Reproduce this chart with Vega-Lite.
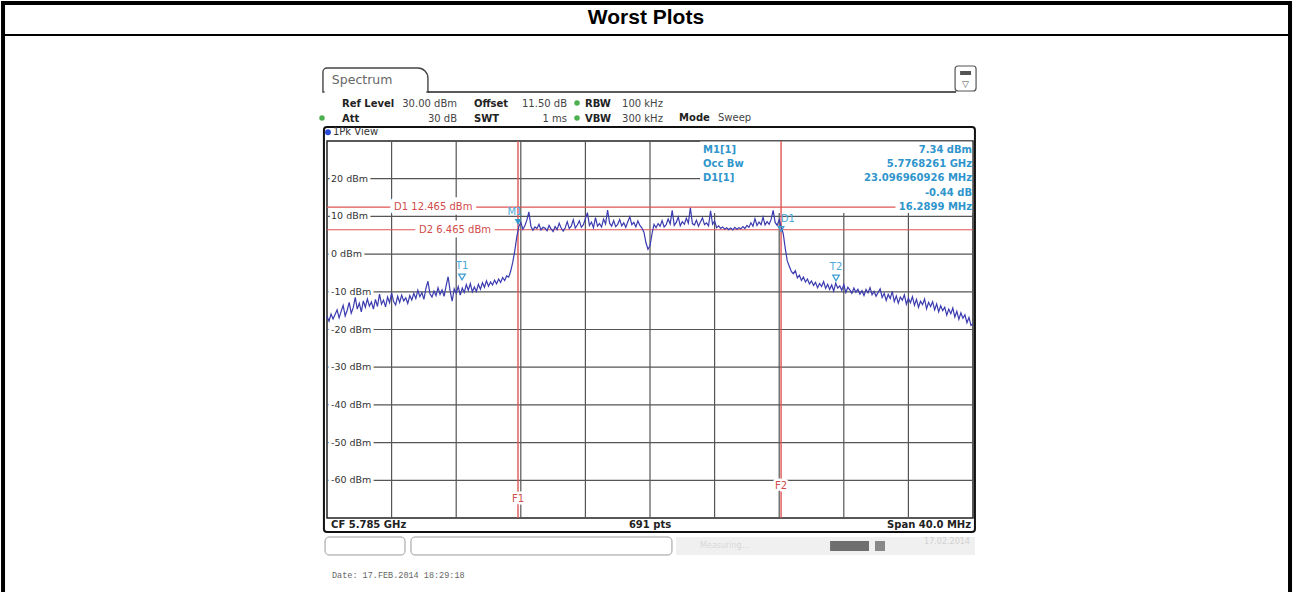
{
"$schema": "https://vega.github.io/schema/vega-lite/v6.json",
"width": 646, "height": 377,
"autosize": {"type": "none"},
"padding": {"left": 327, "top": 141, "right": 320, "bottom": 74},
"background": "white",
"config": {
  "view": {"stroke": "#222222", "strokeWidth": 1.5},
  "text": {"font": "DejaVu Sans", "fontSize": 10}
},
"layer": [
  {"data": {"values": [{"g": 5769}, {"g": 5773}, {"g": 5777}, {"g": 5781}, {"g": 5785}, {"g": 5789}, {"g": 5793}, {"g": 5797}, {"g": 5801}]},
   "mark": {"type": "rule", "stroke": "#555555", "strokeWidth": 1.2},
   "encoding": {"x": {"field": "g", "type": "quantitative", "axis": null}}},
  {"data": {"values": [{"h": 20}, {"h": 10}, {"h": 0}, {"h": -10}, {"h": -20}, {"h": -30}, {"h": -40}, {"h": -50}, {"h": -60}]},
   "mark": {"type": "rule", "stroke": "#555555", "strokeWidth": 1.2},
   "encoding": {"y": {"field": "h", "type": "quantitative", "axis": null}}},
  {"data": {"values": [{}]}, "mark": {"type": "rect", "fill": "transparent", "stroke": "#000000", "strokeWidth": 4},
   "encoding": {"x": {"datum": 5744.94, "axis": null}, "x2": {"datum": 5824.63}, "y": {"datum": 66.6, "axis": null}, "y2": {"datum": -91.75}}},
  {"data": {"values": [{}]}, "mark": {"type": "rule", "stroke": "#000000", "strokeWidth": 2},
   "encoding": {"x": {"datum": 5744.94, "axis": null}, "x2": {"datum": 5824.63}, "y": {"datum": 58.12, "axis": null}}},
  {"data": {"values": [{}]}, "mark": {"type": "text", "text": "Worst Plots", "font": "Liberation Sans", "fontWeight": "bold", "fontSize": 21, "align": "center", "baseline": "middle", "fill": "#000000"},
   "encoding": {"x": {"datum": 5784.75, "axis": null}, "y": {"datum": 62.63, "axis": null}}},
  {"data": {"values": [{}]}, "mark": {"type": "rect", "fill": "white", "stroke": "#444444", "strokeWidth": 1.4, "cornerRadiusTopLeft": 4, "cornerRadiusTopRight": 10},
   "encoding": {"x": {"datum": 5764.75, "axis": null}, "x2": {"datum": 5771.25}, "y": {"datum": 49.36, "axis": null}, "y2": {"datum": 43.0}}},
  {"data": {"values": [{}]}, "mark": {"type": "rule", "stroke": "white", "strokeWidth": 2.5},
   "encoding": {"x": {"datum": 5764.85, "axis": null}, "x2": {"datum": 5771.15}, "y": {"datum": 43.0, "axis": null}}},
  {"data": {"values": [{}]}, "mark": {"type": "rule", "stroke": "#222222", "strokeWidth": 1.5},
   "encoding": {"x": {"datum": 5771.25, "axis": null}, "x2": {"datum": 5803.95}, "y": {"datum": 43.0, "axis": null}}},
  {"data": {"values": [{}]}, "mark": {"type": "text", "text": "Spectrum", "fontSize": 12.5, "align": "left", "baseline": "middle", "fill": "#666666"},
   "encoding": {"x": {"datum": 5765.3, "axis": null}, "y": {"datum": 46.18, "axis": null}}},
  {"data": {"values": [{}]}, "mark": {"type": "rect", "fill": "white", "stroke": "#555555", "strokeWidth": 1.2, "cornerRadius": 3},
   "encoding": {"x": {"datum": 5803.89, "axis": null}, "x2": {"datum": 5805.19}, "y": {"datum": 49.89, "axis": null}, "y2": {"datum": 43.26}}},
  {"data": {"values": [{}]}, "mark": {"type": "rect", "fill": "#555555"},
   "encoding": {"x": {"datum": 5804.2, "axis": null}, "x2": {"datum": 5804.88}, "y": {"datum": 48.57, "axis": null}, "y2": {"datum": 47.51}}},
  {"data": {"values": [{}]}, "mark": {"type": "text", "text": "▽", "fontSize": 9, "align": "center", "baseline": "middle", "fill": "#555555"},
   "encoding": {"x": {"datum": 5804.54, "axis": null}, "y": {"datum": 45.12, "axis": null}}},
  {"data": {"values": [{}]}, "mark": {"type": "text", "text": ["Ref Level", "Att"], "fontWeight": "bold", "align": "left", "baseline": "top", "lineHeight": 15, "fill": "#222222"},
   "encoding": {"x": {"datum": 5765.93, "axis": null}, "y": {"datum": 41.22, "axis": null}}},
  {"data": {"values": [{}]}, "mark": {"type": "text", "text": ["30.00 dBm", "30 dB"], "align": "right", "baseline": "top", "lineHeight": 15, "fill": "#444444"},
   "encoding": {"x": {"datum": 5773.05, "axis": null}, "y": {"datum": 41.22, "axis": null}}},
  {"data": {"values": [{}]}, "mark": {"type": "text", "text": ["Offset", "SWT"], "fontWeight": "bold", "align": "left", "baseline": "top", "lineHeight": 15, "fill": "#222222"},
   "encoding": {"x": {"datum": 5774.1, "axis": null}, "y": {"datum": 41.22, "axis": null}}},
  {"data": {"values": [{}]}, "mark": {"type": "text", "text": ["11.50 dB", "1 ms"], "align": "right", "baseline": "top", "lineHeight": 15, "fill": "#444444"},
   "encoding": {"x": {"datum": 5779.86, "axis": null}, "y": {"datum": 41.22, "axis": null}}},
  {"data": {"values": [{}]}, "mark": {"type": "text", "text": ["RBW", "VBW"], "fontWeight": "bold", "align": "left", "baseline": "top", "lineHeight": 15, "fill": "#222222"},
   "encoding": {"x": {"datum": 5780.98, "axis": null}, "y": {"datum": 41.22, "axis": null}}},
  {"data": {"values": [{}]}, "mark": {"type": "text", "text": ["100 kHz", "300 kHz"], "align": "left", "baseline": "top", "lineHeight": 15, "fill": "#444444"},
   "encoding": {"x": {"datum": 5783.27, "axis": null}, "y": {"datum": 41.22, "axis": null}}},
  {"data": {"values": [{}]}, "mark": {"type": "text", "text": "Mode", "fontWeight": "bold", "align": "left", "baseline": "middle", "fill": "#222222"},
   "encoding": {"x": {"datum": 5786.8, "axis": null}, "y": {"datum": 36.1, "axis": null}}},
  {"data": {"values": [{}]}, "mark": {"type": "text", "text": "Sweep", "align": "left", "baseline": "middle", "fill": "#444444"},
   "encoding": {"x": {"datum": 5789.21, "axis": null}, "y": {"datum": 36.1, "axis": null}}},
  {"data": {"values": [{}]}, "mark": {"type": "point", "shape": "circle", "filled": true, "size": 30, "color": "#4caf50", "opacity": 1},
   "encoding": {"x": {"datum": 5780.48, "axis": null}, "y": {"datum": 40.08, "axis": null}}},
  {"data": {"values": [{}]}, "mark": {"type": "point", "shape": "circle", "filled": true, "size": 30, "color": "#4caf50", "opacity": 1},
   "encoding": {"x": {"datum": 5780.48, "axis": null}, "y": {"datum": 36.1, "axis": null}}},
  {"data": {"values": [{}]}, "mark": {"type": "point", "shape": "circle", "filled": true, "size": 30, "color": "#4caf50", "opacity": 1},
   "encoding": {"x": {"datum": 5764.69, "axis": null}, "y": {"datum": 36.1, "axis": null}}},
  {"data": {"values": [{}]}, "mark": {"type": "rect", "fill": "transparent", "stroke": "#111111", "strokeWidth": 2, "cornerRadius": 3},
   "encoding": {"x": {"datum": 5764.81, "axis": null}, "x2": {"datum": 5805.12}, "y": {"datum": 33.71, "axis": null}, "y2": {"datum": -73.71}}},
  {"data": {"values": [{}]}, "mark": {"type": "text", "text": "1Pk View", "fontSize": 10, "align": "left", "baseline": "middle", "fill": "#333333"},
   "encoding": {"x": {"datum": 5765.37, "axis": null}, "y": {"datum": 32.3, "axis": null}}},
  {"data": {"values": [{}]}, "mark": {"type": "point", "shape": "circle", "filled": true, "size": 35, "color": "#2a4bd7", "opacity": 1},
   "encoding": {"x": {"datum": 5765.06, "axis": null}, "y": {"datum": 32.3, "axis": null}}},
  {"data": {"values": [{}]}, "mark": {"type": "rect", "fill": "white"},
   "encoding": {"x": {"datum": 5788.1, "axis": null}, "x2": {"datum": 5804.95}, "y": {"datum": 29.9, "axis": null}, "y2": {"datum": 10.9}}},
  {"data": {"values": [{}]}, "mark": {"type": "rule", "stroke": "#e05555", "strokeWidth": 1.2},
   "encoding": {"x": {"datum": 5765, "axis": null}, "x2": {"datum": 5800.2}, "y": {"datum": 12.465, "axis": null}}},
  {"data": {"values": [{}]}, "mark": {"type": "rule", "stroke": "#e05555", "strokeWidth": 1.2},
   "encoding": {"x": {"datum": 5765, "axis": null}, "x2": {"datum": 5805}, "y": {"datum": 6.465, "axis": null}}},
  {"data": {"values": [{}]}, "mark": {"type": "rule", "stroke": "#e05555", "strokeWidth": 1.4},
   "encoding": {"x": {"datum": 5776.8261, "axis": null}, "y": {"datum": 30, "axis": null}, "y2": {"datum": -70}}},
  {"data": {"values": [{}]}, "mark": {"type": "rule", "stroke": "#e05555", "strokeWidth": 1.4},
   "encoding": {"x": {"datum": 5793.116, "axis": null}, "y": {"datum": 30, "axis": null}, "y2": {"datum": -70}}},
  {"data": {"name": "ylab", "values": [{"p": 20, "t": "20 dBm"}, {"p": 10, "t": "10 dBm"}, {"p": 0, "t": "0 dBm"}, {"p": -10, "t": "-10 dBm"}, {"p": -20, "t": "-20 dBm"}, {"p": -30, "t": "-30 dBm"}, {"p": -40, "t": "-40 dBm"}, {"p": -50, "t": "-50 dBm"}, {"p": -60, "t": "-60 dBm"}]},
   "mark": {"type": "text", "fontSize": 9.5, "align": "left", "baseline": "middle", "fill": "white", "stroke": "white", "strokeWidth": 6, "strokeJoin": "round"},
   "encoding": {"x": {"datum": 5765.25, "axis": null}, "y": {"field": "p", "type": "quantitative", "axis": null}, "text": {"field": "t"}}},
  {"data": {"name": "ylab"},
   "mark": {"type": "text", "fontSize": 9.5, "align": "left", "baseline": "middle", "fill": "#333333"},
   "encoding": {"x": {"datum": 5765.25, "axis": null}, "y": {"field": "p", "type": "quantitative", "axis": null}, "text": {"field": "t"}}},
  {"data": {"values": [{}]}, "mark": {"type": "text", "text": "D1  12.465 dBm", "align": "left", "baseline": "middle", "fill": "white", "stroke": "white", "strokeWidth": 9, "strokeJoin": "round"},
   "encoding": {"x": {"datum": 5769.15, "axis": null}, "y": {"datum": 12.465, "axis": null}}},
  {"data": {"values": [{}]}, "mark": {"type": "text", "text": "D1  12.465 dBm", "align": "left", "baseline": "middle", "fill": "#d24b4b"},
   "encoding": {"x": {"datum": 5769.15, "axis": null}, "y": {"datum": 12.465, "axis": null}}},
  {"data": {"values": [{}]}, "mark": {"type": "text", "text": "D2  6.465 dBm", "align": "left", "baseline": "middle", "fill": "white", "stroke": "white", "strokeWidth": 9, "strokeJoin": "round"},
   "encoding": {"x": {"datum": 5770.7, "axis": null}, "y": {"datum": 6.465, "axis": null}}},
  {"data": {"values": [{}]}, "mark": {"type": "text", "text": "D2  6.465 dBm", "align": "left", "baseline": "middle", "fill": "#d24b4b"},
   "encoding": {"x": {"datum": 5770.7, "axis": null}, "y": {"datum": 6.465, "axis": null}}},
  {"data": {"values": [{}]}, "mark": {"type": "text", "text": "F1", "align": "center", "baseline": "middle", "fill": "white", "stroke": "white", "strokeWidth": 5, "strokeJoin": "round"},
   "encoding": {"x": {"datum": 5776.83, "axis": null}, "y": {"datum": -64.96, "axis": null}}},
  {"data": {"values": [{}]}, "mark": {"type": "text", "text": "F1", "align": "center", "baseline": "middle", "fill": "#d24b4b"},
   "encoding": {"x": {"datum": 5776.83, "axis": null}, "y": {"datum": -64.96, "axis": null}}},
  {"data": {"values": [{}]}, "mark": {"type": "text", "text": "F2", "align": "center", "baseline": "middle", "fill": "white", "stroke": "white", "strokeWidth": 5, "strokeJoin": "round"},
   "encoding": {"x": {"datum": 5793.12, "axis": null}, "y": {"datum": -61.64, "axis": null}}},
  {"data": {"values": [{}]}, "mark": {"type": "text", "text": "F2", "align": "center", "baseline": "middle", "fill": "#d24b4b"},
   "encoding": {"x": {"datum": 5793.12, "axis": null}, "y": {"datum": -61.64, "axis": null}}},
  {"data": {"values": [
    {"f":5765,"p":-16.5},{"f":5765.125,"p":-17.8},{"f":5765.25,"p":-15.9},{"f":5765.375,"p":-17.2},{"f":5765.5,"p":-16.0},{"f":5765.625,"p":-14.8},{"f":5765.75,"p":-16.9},{"f":5765.875,"p":-15.2},
    {"f":5766,"p":-13.6},{"f":5766.125,"p":-16.4},{"f":5766.25,"p":-14.9},{"f":5766.375,"p":-12.8},{"f":5766.5,"p":-15.7},{"f":5766.625,"p":-14.2},{"f":5766.75,"p":-11.5},{"f":5766.875,"p":-14.6},
    {"f":5767,"p":-13.0},{"f":5767.125,"p":-15.3},{"f":5767.25,"p":-12.4},{"f":5767.375,"p":-14.1},{"f":5767.5,"p":-11.9},{"f":5767.625,"p":-13.8},{"f":5767.75,"p":-12.7},{"f":5767.875,"p":-14.6},
    {"f":5768,"p":-12.0},{"f":5768.125,"p":-13.9},{"f":5768.25,"p":-10.6},{"f":5768.375,"p":-13.3},{"f":5768.5,"p":-12.2},{"f":5768.625,"p":-14.0},{"f":5768.75,"p":-11.4},{"f":5768.875,"p":-12.9},
    {"f":5769,"p":-10.3},{"f":5769.125,"p":-12.6},{"f":5769.25,"p":-13.5},{"f":5769.375,"p":-11.2},{"f":5769.5,"p":-12.8},{"f":5769.625,"p":-10.9},{"f":5769.75,"p":-12.4},{"f":5769.875,"p":-11.6},
    {"f":5770,"p":-13.1},{"f":5770.125,"p":-11.0},{"f":5770.25,"p":-12.2},{"f":5770.375,"p":-10.4},{"f":5770.5,"p":-11.8},{"f":5770.625,"p":-9.6},{"f":5770.75,"p":-11.3},{"f":5770.875,"p":-10.2},
    {"f":5771,"p":-12.0},{"f":5771.125,"p":-9.1},{"f":5771.25,"p":-7.2},{"f":5771.375,"p":-10.5},{"f":5771.5,"p":-11.4},{"f":5771.625,"p":-9.8},{"f":5771.75,"p":-11.0},{"f":5771.875,"p":-8.9},
    {"f":5772,"p":-10.7},{"f":5772.125,"p":-9.5},{"f":5772.25,"p":-11.2},{"f":5772.375,"p":-8.4},{"f":5772.5,"p":-6.0},{"f":5772.625,"p":-9.8},{"f":5772.75,"p":-12.5},{"f":5772.875,"p":-9.2},
    {"f":5773,"p":-10.4},{"f":5773.125,"p":-8.6},{"f":5773.25,"p":-10.9},{"f":5773.375,"p":-9.0},{"f":5773.5,"p":-10.2},{"f":5773.625,"p":-8.1},{"f":5773.75,"p":-9.6},{"f":5773.875,"p":-7.8},
    {"f":5774,"p":-10.0},{"f":5774.125,"p":-8.7},{"f":5774.25,"p":-9.9},{"f":5774.375,"p":-8.0},{"f":5774.5,"p":-9.3},{"f":5774.625,"p":-7.6},{"f":5774.75,"p":-8.8},{"f":5774.875,"p":-7.1},
    {"f":5775,"p":-8.5},{"f":5775.125,"p":-7.4},{"f":5775.25,"p":-8.2},{"f":5775.375,"p":-6.9},{"f":5775.5,"p":-7.9},{"f":5775.625,"p":-6.6},{"f":5775.75,"p":-7.5},{"f":5775.875,"p":-6.2},
    {"f":5776,"p":-7.0},{"f":5776.125,"p":-5.8},{"f":5776.25,"p":-6.1},{"f":5776.375,"p":-4.5},{"f":5776.5,"p":-2.2},{"f":5776.625,"p":0.8},{"f":5776.75,"p":4.5},{"f":5776.875,"p":7.3},
    {"f":5777,"p":8.4},{"f":5777.125,"p":6.6},{"f":5777.25,"p":7.5},{"f":5777.375,"p":9.0},{"f":5777.5,"p":11.2},{"f":5777.625,"p":7.4},{"f":5777.75,"p":6.3},{"f":5777.875,"p":7.2},
    {"f":5778,"p":6.8},{"f":5778.125,"p":7.9},{"f":5778.25,"p":6.4},{"f":5778.375,"p":7.1},{"f":5778.5,"p":6.9},{"f":5778.625,"p":6.2},{"f":5778.75,"p":7.6},{"f":5778.875,"p":6.7},
    {"f":5779,"p":6.0},{"f":5779.125,"p":7.3},{"f":5779.25,"p":6.5},{"f":5779.375,"p":8.2},{"f":5779.5,"p":6.9},{"f":5779.625,"p":6.1},{"f":5779.75,"p":7.0},{"f":5779.875,"p":8.6},
    {"f":5780,"p":6.8},{"f":5780.125,"p":7.4},{"f":5780.25,"p":9.1},{"f":5780.375,"p":6.9},{"f":5780.5,"p":7.7},{"f":5780.625,"p":8.8},{"f":5780.75,"p":7.1},{"f":5780.875,"p":7.8},
    {"f":5781,"p":9.4},{"f":5781.125,"p":11.0},{"f":5781.25,"p":7.6},{"f":5781.375,"p":8.5},{"f":5781.5,"p":7.0},{"f":5781.625,"p":9.7},{"f":5781.75,"p":7.4},{"f":5781.875,"p":8.1},
    {"f":5782,"p":7.2},{"f":5782.125,"p":9.3},{"f":5782.25,"p":8.0},{"f":5782.375,"p":11.7},{"f":5782.5,"p":8.2},{"f":5782.625,"p":7.4},{"f":5782.75,"p":8.9},{"f":5782.875,"p":7.3},
    {"f":5783,"p":7.9},{"f":5783.125,"p":9.2},{"f":5783.25,"p":7.5},{"f":5783.375,"p":8.3},{"f":5783.5,"p":7.1},{"f":5783.625,"p":8.6},{"f":5783.75,"p":9.9},{"f":5783.875,"p":7.8},
    {"f":5784,"p":8.4},{"f":5784.125,"p":7.2},{"f":5784.25,"p":8.8},{"f":5784.375,"p":7.6},{"f":5784.5,"p":6.9},{"f":5784.625,"p":5.8},{"f":5784.75,"p":3.0},{"f":5784.875,"p":1.3},
    {"f":5785,"p":2.2},{"f":5785.125,"p":5.4},{"f":5785.25,"p":7.9},{"f":5785.375,"p":7.0},{"f":5785.5,"p":8.1},{"f":5785.625,"p":7.4},{"f":5785.75,"p":8.9},{"f":5785.875,"p":7.2},
    {"f":5786,"p":7.8},{"f":5786.125,"p":9.3},{"f":5786.25,"p":8.0},{"f":5786.375,"p":11.6},{"f":5786.5,"p":7.6},{"f":5786.625,"p":8.4},{"f":5786.75,"p":9.8},{"f":5786.875,"p":7.5},
    {"f":5787,"p":8.6},{"f":5787.125,"p":7.9},{"f":5787.25,"p":9.5},{"f":5787.375,"p":8.2},{"f":5787.5,"p":12.3},{"f":5787.625,"p":8.1},{"f":5787.75,"p":7.7},{"f":5787.875,"p":9.0},
    {"f":5788,"p":7.4},{"f":5788.125,"p":8.5},{"f":5788.25,"p":9.6},{"f":5788.375,"p":7.8},{"f":5788.5,"p":8.3},{"f":5788.625,"p":7.5},{"f":5788.75,"p":11.5},{"f":5788.875,"p":7.9},
    {"f":5789,"p":8.8},{"f":5789.125,"p":7.0},{"f":5789.25,"p":7.5},{"f":5789.375,"p":6.8},{"f":5789.5,"p":7.2},{"f":5789.625,"p":6.6},{"f":5789.75,"p":7.0},{"f":5789.875,"p":6.5},
    {"f":5790,"p":6.9},{"f":5790.125,"p":6.4},{"f":5790.25,"p":7.1},{"f":5790.375,"p":6.6},{"f":5790.5,"p":7.0},{"f":5790.625,"p":6.7},{"f":5790.75,"p":7.3},{"f":5790.875,"p":6.8},
    {"f":5791,"p":7.6},{"f":5791.125,"p":7.1},{"f":5791.25,"p":8.3},{"f":5791.375,"p":7.4},{"f":5791.5,"p":9.4},{"f":5791.625,"p":7.6},{"f":5791.75,"p":8.5},{"f":5791.875,"p":7.8},
    {"f":5792,"p":9.8},{"f":5792.125,"p":7.7},{"f":5792.25,"p":8.6},{"f":5792.375,"p":7.9},{"f":5792.5,"p":9.2},{"f":5792.625,"p":11.6},{"f":5792.75,"p":8.4},{"f":5792.875,"p":7.6},
    {"f":5793,"p":9.1},{"f":5793.125,"p":7.2},{"f":5793.25,"p":5.4},{"f":5793.375,"p":1.5},{"f":5793.5,"p":-1.8},{"f":5793.625,"p":-3.2},{"f":5793.75,"p":-4.6},{"f":5793.875,"p":-5.2},
    {"f":5794,"p":-4.4},{"f":5794.125,"p":-6.3},{"f":5794.25,"p":-5.6},{"f":5794.375,"p":-7.0},{"f":5794.5,"p":-6.1},{"f":5794.625,"p":-7.4},{"f":5794.75,"p":-6.6},{"f":5794.875,"p":-7.9},
    {"f":5795,"p":-7.1},{"f":5795.125,"p":-8.3},{"f":5795.25,"p":-7.5},{"f":5795.375,"p":-8.9},{"f":5795.5,"p":-7.8},{"f":5795.625,"p":-8.6},{"f":5795.75,"p":-7.3},{"f":5795.875,"p":-9.1},
    {"f":5796,"p":-8.0},{"f":5796.125,"p":-9.4},{"f":5796.25,"p":-8.2},{"f":5796.375,"p":-9.8},{"f":5796.5,"p":-7.7},{"f":5796.625,"p":-9.0},{"f":5796.75,"p":-8.4},{"f":5796.875,"p":-9.6},
    {"f":5797,"p":-8.1},{"f":5797.125,"p":-10.2},{"f":5797.25,"p":-8.8},{"f":5797.375,"p":-9.5},{"f":5797.5,"p":-10.4},{"f":5797.625,"p":-9.0},{"f":5797.75,"p":-10.1},{"f":5797.875,"p":-9.3},
    {"f":5798,"p":-10.6},{"f":5798.125,"p":-9.7},{"f":5798.25,"p":-11.0},{"f":5798.375,"p":-9.4},{"f":5798.5,"p":-10.3},{"f":5798.625,"p":-8.9},{"f":5798.75,"p":-10.8},{"f":5798.875,"p":-9.9},
    {"f":5799,"p":-11.2},{"f":5799.125,"p":-10.1},{"f":5799.25,"p":-9.2},{"f":5799.375,"p":-11.5},{"f":5799.5,"p":-10.4},{"f":5799.625,"p":-12.3},{"f":5799.75,"p":-10.7},{"f":5799.875,"p":-11.8},
    {"f":5800,"p":-9.9},{"f":5800.125,"p":-12.6},{"f":5800.25,"p":-11.1},{"f":5800.375,"p":-13.0},{"f":5800.5,"p":-11.4},{"f":5800.625,"p":-12.2},{"f":5800.75,"p":-10.8},{"f":5800.875,"p":-13.3},
    {"f":5801,"p":-11.7},{"f":5801.125,"p":-12.9},{"f":5801.25,"p":-11.3},{"f":5801.375,"p":-13.6},{"f":5801.5,"p":-12.0},{"f":5801.625,"p":-14.1},{"f":5801.75,"p":-12.5},{"f":5801.875,"p":-13.4},
    {"f":5802,"p":-11.9},{"f":5802.125,"p":-14.5},{"f":5802.25,"p":-12.8},{"f":5802.375,"p":-13.9},{"f":5802.5,"p":-12.6},{"f":5802.625,"p":-14.8},{"f":5802.75,"p":-13.2},{"f":5802.875,"p":-15.3},
    {"f":5803,"p":-13.7},{"f":5803.125,"p":-15.0},{"f":5803.25,"p":-14.1},{"f":5803.375,"p":-16.2},{"f":5803.5,"p":-14.6},{"f":5803.625,"p":-15.8},{"f":5803.75,"p":-14.3},{"f":5803.875,"p":-16.7},
    {"f":5804,"p":-15.2},{"f":5804.125,"p":-17.3},{"f":5804.25,"p":-15.6},{"f":5804.375,"p":-17.0},{"f":5804.5,"p":-16.1},{"f":5804.625,"p":-18.2},{"f":5804.75,"p":-16.8},{"f":5804.875,"p":-18.9},
    {"f":5805,"p":-18.4}
  ]},
   "mark": {"type": "line", "stroke": "#3b3bb0", "strokeWidth": 1.2},
   "encoding": {
     "x": {"field": "f", "type": "quantitative", "scale": {"domain": [5765, 5805], "nice": false, "zero": false}, "axis": null},
     "y": {"field": "p", "type": "quantitative", "scale": {"domain": [-70, 30], "nice": false, "zero": false}, "axis": null}
   }},
  {"data": {"values": [{}]}, "mark": {"type": "point", "shape": "triangle-down", "filled": true, "size": 45, "color": "#2f9bd0", "opacity": 1},
   "encoding": {"x": {"datum": 5776.83, "axis": null}, "y": {"datum": 8.51, "axis": null}}},
  {"data": {"values": [{}]}, "mark": {"type": "text", "text": "M1", "align": "center", "baseline": "middle", "fill": "#4aa8d8"},
   "encoding": {"x": {"datum": 5776.64, "axis": null}, "y": {"datum": 11.17, "axis": null}}},
  {"data": {"values": [{}]}, "mark": {"type": "point", "shape": "triangle-down", "filled": false, "size": 45, "stroke": "#3a9ccf", "strokeWidth": 1.2, "opacity": 1},
   "encoding": {"x": {"datum": 5773.36, "axis": null}, "y": {"datum": -6.07, "axis": null}}},
  {"data": {"values": [{}]}, "mark": {"type": "text", "text": "T1", "align": "center", "baseline": "middle", "fill": "#4aa8d8"},
   "encoding": {"x": {"datum": 5773.36, "axis": null}, "y": {"datum": -3.16, "axis": null}}},
  {"data": {"values": [{}]}, "mark": {"type": "point", "shape": "triangle-down", "filled": false, "size": 45, "stroke": "#3a9ccf", "strokeWidth": 1.2, "opacity": 1},
   "encoding": {"x": {"datum": 5796.52, "axis": null}, "y": {"datum": -6.34, "axis": null}}},
  {"data": {"values": [{}]}, "mark": {"type": "text", "text": "T2", "align": "center", "baseline": "middle", "fill": "#4aa8d8"},
   "encoding": {"x": {"datum": 5796.52, "axis": null}, "y": {"datum": -3.42, "axis": null}}},
  {"data": {"values": [{}]}, "mark": {"type": "point", "shape": "triangle-down", "filled": false, "size": 30, "stroke": "#3a9ccf", "strokeWidth": 1.2, "opacity": 1},
   "encoding": {"x": {"datum": 5793.12, "axis": null}, "y": {"datum": 6.66, "axis": null}}},
  {"data": {"values": [{}]}, "mark": {"type": "text", "text": "D1", "align": "left", "baseline": "middle", "fill": "#4aa8d8"},
   "encoding": {"x": {"datum": 5793.1, "axis": null}, "y": {"datum": 9.31, "axis": null}}},
  {"data": {"values": [{}]}, "mark": {"type": "text", "text": ["M1[1]", "", "Occ Bw", "D1[1]"], "fontWeight": "bold", "align": "left", "baseline": "top", "lineHeight": 14.4, "fill": "#2f95cc"},
   "encoding": {"x": {"datum": 5788.28, "axis": null}, "y": {"datum": 29.02, "axis": null}}},
  {"data": {"values": [{}]}, "mark": {"type": "text", "text": ["7.34 dBm", "5.7768261 GHz", "23.096960926 MHz", "-0.44 dB", "16.2899 MHz"], "fontWeight": "bold", "align": "right", "baseline": "top", "lineHeight": 14.4, "fill": "#2f95cc"},
   "encoding": {"x": {"datum": 5804.94, "axis": null}, "y": {"datum": 29.02, "axis": null}}},
  {"data": {"values": [{}]}, "mark": {"type": "text", "text": "CF 5.785 GHz", "fontWeight": "bold", "align": "left", "baseline": "middle", "fill": "#222222"},
   "encoding": {"x": {"datum": 5765.25, "axis": null}, "y": {"datum": -71.86, "axis": null}}},
  {"data": {"values": [{}]}, "mark": {"type": "text", "text": "691 pts", "fontWeight": "bold", "align": "center", "baseline": "middle", "fill": "#222222"},
   "encoding": {"x": {"datum": 5785, "axis": null}, "y": {"datum": -71.86, "axis": null}}},
  {"data": {"values": [{}]}, "mark": {"type": "text", "text": "Span 40.0 MHz", "fontWeight": "bold", "align": "right", "baseline": "middle", "fill": "#222222"},
   "encoding": {"x": {"datum": 5804.88, "axis": null}, "y": {"datum": -71.86, "axis": null}}},
  {"data": {"values": [{}]}, "mark": {"type": "rect", "fill": "white", "stroke": "#9a9a9a", "strokeWidth": 1, "cornerRadius": 4},
   "encoding": {"x": {"datum": 5764.88, "axis": null}, "x2": {"datum": 5769.83}, "y": {"datum": -75.04, "axis": null}, "y2": {"datum": -79.81}}},
  {"data": {"values": [{}]}, "mark": {"type": "rect", "fill": "white", "stroke": "#9a9a9a", "strokeWidth": 1, "cornerRadius": 4},
   "encoding": {"x": {"datum": 5770.2, "axis": null}, "x2": {"datum": 5786.36}, "y": {"datum": -75.04, "axis": null}, "y2": {"datum": -79.81}}},
  {"data": {"values": [{}]}, "mark": {"type": "rect", "fill": "#f0f0f0"},
   "encoding": {"x": {"datum": 5786.61, "axis": null}, "x2": {"datum": 5805.12}, "y": {"datum": -75.04, "axis": null}, "y2": {"datum": -79.81}}},
  {"data": {"values": [{}]}, "mark": {"type": "rect", "fill": "#6e6e6e"},
   "encoding": {"x": {"datum": 5796.15, "axis": null}, "x2": {"datum": 5798.56}, "y": {"datum": -76.1, "axis": null}, "y2": {"datum": -78.75}}},
  {"data": {"values": [{}]}, "mark": {"type": "rect", "fill": "#888888"},
   "encoding": {"x": {"datum": 5798.93, "axis": null}, "x2": {"datum": 5799.55}, "y": {"datum": -76.1, "axis": null}, "y2": {"datum": -78.75}}},
  {"data": {"values": [{}]}, "mark": {"type": "text", "text": "Measuring...", "fontSize": 8, "align": "left", "baseline": "middle", "fill": "#d8d8d8"},
   "encoding": {"x": {"datum": 5788.1, "axis": null}, "y": {"datum": -77.43, "axis": null}}},
  {"data": {"values": [{}]}, "mark": {"type": "text", "text": "17.02.2014", "fontSize": 8, "align": "right", "baseline": "middle", "fill": "#d0d0d0"},
   "encoding": {"x": {"datum": 5804.81, "axis": null}, "y": {"datum": -76.3, "axis": null}}},
  {"data": {"values": [{}]}, "mark": {"type": "text", "text": "Date: 17.FEB.2014  18:29:18", "font": "Liberation Mono", "fontSize": 8.5, "align": "left", "baseline": "middle", "fill": "#666666"},
   "encoding": {"x": {"datum": 5765.31, "axis": null}, "y": {"datum": -85.12, "axis": null}}}
]
}
